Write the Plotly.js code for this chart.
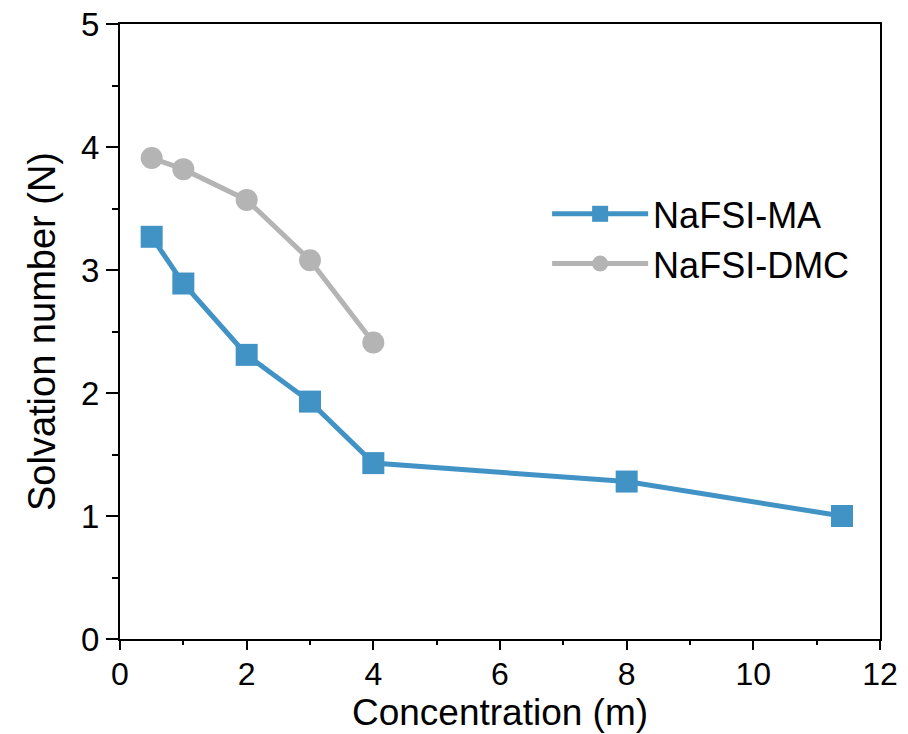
<!DOCTYPE html>
<html>
<head>
<meta charset="utf-8">
<script src="https://cdn.plot.ly/plotly-3.0.1.min.js"></script>
<style>html,body{margin:0;padding:0;background:#fff;}</style>
</head>
<body>
<div id="chart" style="width:908px;height:734px;"></div>
<script>
var concMA = [0.5, 1, 2, 3, 4, 8, 11.4];
var solvMA = [3.27, 2.89, 2.31, 1.93, 1.43, 1.28, 1.00];
var concDMC = [0.5, 1, 2, 3, 4];
var solvDMC = [3.91, 3.82, 3.57, 3.08, 2.41];
var xTicks = [0, 2, 4, 6, 8, 10, 12];
var yTicks = [0, 1, 2, 3, 4, 5];

var font = 'Liberation Sans, Arial, sans-serif';

var traces = [
  {
    x: concMA, y: solvMA, name: 'NaFSI-MA', type: 'scatter', mode: 'lines+markers',
    line: {color: '#4193C6', width: 5},
    marker: {symbol: 'square', size: 22, color: '#4193C6'}
  },
  {
    x: concDMC, y: solvDMC, name: 'NaFSI-DMC', type: 'scatter', mode: 'lines+markers',
    line: {color: '#B4B4B4', width: 5},
    marker: {symbol: 'circle', size: 22, color: '#B4B4B4'}
  }
];

var layout = {
  width: 908, height: 734,
  margin: {l: 120, r: 28, t: 24, b: 95},
  paper_bgcolor: '#fff', plot_bgcolor: '#fff',
  font: {family: font, color: '#000'},
  showlegend: true,
  legend: {
    x: 0.562, y: 0.74, xanchor: 'left', yanchor: 'top',
    font: {family: font, size: 36, color: '#000'},
    bgcolor: 'rgba(0,0,0,0)', borderwidth: 0,
    itemwidth: 96, tracegroupgap: 0
  },
  xaxis: {
    range: [0, 12], tickvals: xTicks, ticktext: xTicks.map(String),
    showgrid: false, zeroline: false,
    showline: true, linecolor: '#000', linewidth: 2, mirror: true,
    ticks: 'outside', ticklen: 9, tickwidth: 2, tickcolor: '#000',
    ticklabelstandoff: -3,
    minor: {dtick: 1, ticks: 'outside', ticklen: 4, tickwidth: 2, tickcolor: '#000', showgrid: false},
    tickfont: {family: font, size: 32, color: '#000'},
    title: {text: 'Concentration (m)', font: {family: font, size: 37, color: '#000'}, standoff: 4}
  },
  yaxis: {
    range: [0, 5], tickvals: yTicks, ticktext: yTicks.map(String),
    showgrid: false, zeroline: false,
    showline: true, linecolor: '#000', linewidth: 2, mirror: true,
    ticks: 'outside', ticklen: 12, tickwidth: 2, tickcolor: '#000',
    minor: {dtick: 0.5, ticks: 'outside', ticklen: 6, tickwidth: 2, tickcolor: '#000', showgrid: false},
    tickfont: {family: font, size: 33, color: '#000'},
    title: {text: 'Solvation number (N)', font: {family: font, size: 38, color: '#000'}, standoff: 14}
  }
};

Plotly.newPlot('chart', traces, layout, {displayModeBar: false, staticPlot: true});
</script>
</body>
</html>
